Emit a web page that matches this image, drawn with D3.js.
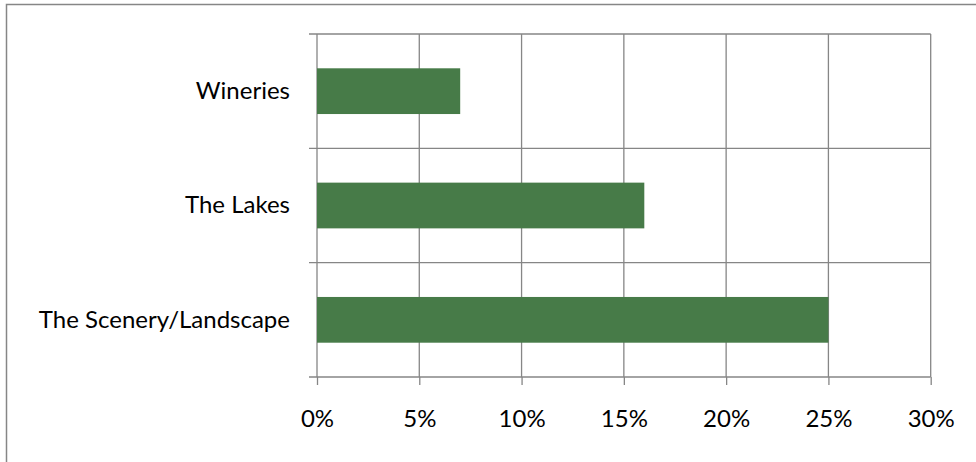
<!DOCTYPE html>
<html>
<head>
<meta charset="utf-8">
<script src="https://cdn.jsdelivr.net/npm/d3@7"></script>
<style>
  html, body { margin: 0; padding: 0; background: #fff; }
  svg { display: block; }
  text { font-family: Lato, "Open Sans", sans-serif; fill: #000; }
</style>
</head>
<body>
<svg id="chart" width="976" height="462"></svg>
<script>
const categories = ["Wineries", "The Lakes", "The Scenery/Landscape"];
const values = [7, 16, 25];
const xTicks = [0, 5, 10, 15, 20, 25, 30];
const xTickLabels = ["0%", "5%", "10%", "15%", "20%", "25%", "30%"];

(function () {
const svg = d3.select("#chart");
const gridColor = "#868686";
const barColor = "#477b48";
const fontSize = 24;

// outer border (only left and top visible)
svg.append("path")
  .attr("d", "M6.5,462 L6.5,4.5 L976,4.5")
  .attr("fill", "none").attr("stroke", gridColor).attr("stroke-width", 1.5);

const pLeft = 317, pRight = 930.7, pTop = 34, pBottom = 377;
const x = d3.scaleLinear().domain([0, 30]).range([pLeft, pRight]);
const y = d3.scaleBand().domain(categories).range([pTop, pBottom])
  .paddingInner(0.6).paddingOuter(0.3);

// vertical gridlines
svg.append("g").selectAll("line").data(xTicks).join("line")
  .attr("x1", d => x(d)).attr("x2", d => x(d))
  .attr("y1", pTop).attr("y2", pBottom)
  .attr("stroke", gridColor).attr("stroke-width", 1.3);

// horizontal gridlines at category boundaries
const step = y.step();
const boundaries = categories.map(c => y(c) - step * y.paddingInner() / 2).concat([pBottom]);
svg.append("g").selectAll("line").data(boundaries).join("line")
  .attr("x1", pLeft - 8).attr("x2", pRight)
  .attr("y1", d => d).attr("y2", d => d)
  .attr("stroke", gridColor).attr("stroke-width", 1.3);

// bars
svg.append("g").selectAll("rect").data(categories).join("rect")
  .attr("x", x(0))
  .attr("y", d => y(d))
  .attr("width", (d, i) => x(values[i]) - x(0))
  .attr("height", y.bandwidth())
  .attr("fill", barColor);

// bottom axis
const xAxis = d3.axisBottom(x).tickValues(xTicks)
  .tickFormat((d, i) => xTickLabels[i]).tickSize(8).tickPadding(25);
const gx = svg.append("g").attr("transform", `translate(0,${pBottom})`).call(xAxis);
gx.select(".domain").remove();
gx.selectAll(".tick line").attr("stroke", gridColor).attr("stroke-width", 1.3);
gx.selectAll(".tick text").attr("font-size", fontSize).attr("font-family", "Lato, sans-serif").attr("fill", "#000");

// left labels
const yAxis = d3.axisLeft(y).tickSize(0).tickPadding(27);
const gy = svg.append("g").attr("transform", `translate(${pLeft},0)`).call(yAxis);
gy.select(".domain").remove();
gy.selectAll(".tick text").attr("font-size", fontSize).attr("font-family", "Lato, sans-serif").attr("fill", "#000");
})();
</script>
</body>
</html>
